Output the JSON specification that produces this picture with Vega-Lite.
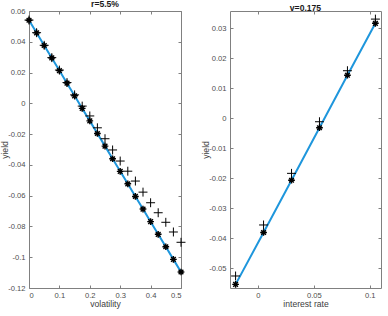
{
  "$schema": "https://vega.github.io/schema/vega-lite/v6.json",
  "background": "white",
  "padding": {"left": 0, "top": 0, "right": 4, "bottom": 2},
  "datasets": {
    "byVol": [
      {"volatility": 0.0, "yield": 0.0540, "method": "model"},
      {"volatility": 0.025, "yield": 0.0458, "method": "model"},
      {"volatility": 0.05, "yield": 0.0376, "method": "model"},
      {"volatility": 0.075, "yield": 0.0295, "method": "model"},
      {"volatility": 0.1, "yield": 0.0213, "method": "model"},
      {"volatility": 0.125, "yield": 0.0131, "method": "model"},
      {"volatility": 0.15, "yield": 0.0049, "method": "model"},
      {"volatility": 0.175, "yield": -0.0033, "method": "model"},
      {"volatility": 0.2, "yield": -0.0114, "method": "model"},
      {"volatility": 0.225, "yield": -0.0196, "method": "model"},
      {"volatility": 0.25, "yield": -0.0278, "method": "model"},
      {"volatility": 0.275, "yield": -0.0360, "method": "model"},
      {"volatility": 0.3, "yield": -0.0442, "method": "model"},
      {"volatility": 0.325, "yield": -0.0523, "method": "model"},
      {"volatility": 0.35, "yield": -0.0605, "method": "model"},
      {"volatility": 0.375, "yield": -0.0687, "method": "model"},
      {"volatility": 0.4, "yield": -0.0769, "method": "model"},
      {"volatility": 0.425, "yield": -0.0851, "method": "model"},
      {"volatility": 0.45, "yield": -0.0932, "method": "model"},
      {"volatility": 0.475, "yield": -0.1014, "method": "model"},
      {"volatility": 0.5, "yield": -0.1096, "method": "model"},
      {"volatility": 0.0, "yield": 0.0541, "method": "mc"},
      {"volatility": 0.025, "yield": 0.0459, "method": "mc"},
      {"volatility": 0.05, "yield": 0.0377, "method": "mc"},
      {"volatility": 0.075, "yield": 0.0297, "method": "mc"},
      {"volatility": 0.1, "yield": 0.0216, "method": "mc"},
      {"volatility": 0.125, "yield": 0.0135, "method": "mc"},
      {"volatility": 0.15, "yield": 0.0055, "method": "mc"},
      {"volatility": 0.175, "yield": -0.0018, "method": "mc"},
      {"volatility": 0.2, "yield": -0.0082, "method": "mc"},
      {"volatility": 0.225, "yield": -0.0159, "method": "mc"},
      {"volatility": 0.25, "yield": -0.0230, "method": "mc"},
      {"volatility": 0.275, "yield": -0.0303, "method": "mc"},
      {"volatility": 0.3, "yield": -0.0375, "method": "mc"},
      {"volatility": 0.325, "yield": -0.0441, "method": "mc"},
      {"volatility": 0.35, "yield": -0.0505, "method": "mc"},
      {"volatility": 0.375, "yield": -0.0577, "method": "mc"},
      {"volatility": 0.4, "yield": -0.0646, "method": "mc"},
      {"volatility": 0.425, "yield": -0.0711, "method": "mc"},
      {"volatility": 0.45, "yield": -0.0773, "method": "mc"},
      {"volatility": 0.475, "yield": -0.0836, "method": "mc"},
      {"volatility": 0.5, "yield": -0.0903, "method": "mc"}
    ],
    "byRate": [
      {"rate": -0.02, "yield": -0.0553, "method": "model"},
      {"rate": 0.005, "yield": -0.0380, "method": "model"},
      {"rate": 0.03, "yield": -0.0206, "method": "model"},
      {"rate": 0.055, "yield": -0.0031, "method": "model"},
      {"rate": 0.08, "yield": 0.0144, "method": "model"},
      {"rate": 0.105, "yield": 0.0317, "method": "model"},
      {"rate": -0.02, "yield": -0.0525, "method": "mc"},
      {"rate": 0.005, "yield": -0.0355, "method": "mc"},
      {"rate": 0.03, "yield": -0.0183, "method": "mc"},
      {"rate": 0.055, "yield": -0.0011, "method": "mc"},
      {"rate": 0.08, "yield": 0.0159, "method": "mc"},
      {"rate": 0.105, "yield": 0.0331, "method": "mc"}
    ]
  },
  "hconcat": [
    {
      "title": "r=5.5%",
      "width": 152,
      "height": 277,
      "data": {"name": "byVol"},
      "layer": [
        {
          "transform": [{"filter": "datum.method === 'model'"}],
          "mark": {"type": "line", "color": "#1E96DC", "strokeWidth": 2},
          "encoding": {
            "x": {"field": "volatility", "type": "quantitative",
                  "scale": {"domain": [0, 0.5], "nice": false, "zero": false},
                  "axis": {"title": "volatility", "values": [0, 0.1, 0.2, 0.3, 0.4, 0.5], "labelExpr": "'' + datum.value"}},
            "y": {"field": "yield", "type": "quantitative",
                  "scale": {"domain": [-0.12, 0.06], "nice": false, "zero": false},
                  "axis": {"title": "yield", "values": [-0.12, -0.1, -0.08, -0.06, -0.04, -0.02, 0, 0.02, 0.04, 0.06], "labelExpr": "'' + datum.value"}}
          }
        },
        {
          "transform": [{"filter": "datum.method === 'mc'"}],
          "mark": {"type": "point", "shape": "M-1,0L1,0M0,-1L0,1", "filled": false, "stroke": "#000", "strokeWidth": 1, "size": 80, "opacity": 1},
          "encoding": {
            "x": {"field": "volatility", "type": "quantitative",
                  "axis": {"orient": "top", "labels": false, "title": null, "labelPadding": 0, "values": [0, 0.1, 0.2, 0.3, 0.4, 0.5]}},
            "y": {"field": "yield", "type": "quantitative",
                  "axis": {"orient": "right", "labels": false, "title": null, "labelPadding": 0, "values": [-0.12, -0.1, -0.08, -0.06, -0.04, -0.02, 0, 0.02, 0.04, 0.06]}}
          }
        },
        {
          "transform": [{"filter": "datum.method === 'model'"}],
          "mark": {"type": "point", "shape": "M-1,0L1,0M0,-1L0,1M-0.7,-0.7L0.7,0.7M-0.7,0.7L0.7,-0.7", "filled": false, "stroke": "#000", "strokeWidth": 1.4, "size": 45, "opacity": 1},
          "encoding": {
            "x": {"field": "volatility", "type": "quantitative", "axis": null},
            "y": {"field": "yield", "type": "quantitative", "axis": null}
          }
        }
      ],
      "resolve": {"axis": {"x": "independent", "y": "independent"}}
    },
    {
      "title": "v=0.175",
      "width": 151,
      "height": 277,
      "data": {"name": "byRate"},
      "layer": [
        {
          "transform": [{"filter": "datum.method === 'model'"}],
          "mark": {"type": "line", "color": "#1E96DC", "strokeWidth": 2},
          "encoding": {
            "x": {"field": "rate", "type": "quantitative",
                  "scale": {"domain": [-0.025, 0.11], "nice": false, "zero": false},
                  "axis": {"title": "interest rate", "values": [0, 0.05, 0.1], "labelExpr": "'' + datum.value"}},
            "y": {"field": "yield", "type": "quantitative",
                  "scale": {"domain": [-0.0565, 0.0358], "nice": false, "zero": false},
                  "axis": {"title": "yield", "values": [-0.05, -0.04, -0.03, -0.02, -0.01, 0, 0.01, 0.02, 0.03], "labelExpr": "'' + datum.value"}}
          }
        },
        {
          "transform": [{"filter": "datum.method === 'mc'"}],
          "mark": {"type": "point", "shape": "M-1,0L1,0M0,-1L0,1", "filled": false, "stroke": "#000", "strokeWidth": 1, "size": 80, "opacity": 1},
          "encoding": {
            "x": {"field": "rate", "type": "quantitative",
                  "axis": {"orient": "top", "labels": false, "title": null, "labelPadding": 0, "values": [0, 0.05, 0.1]}},
            "y": {"field": "yield", "type": "quantitative",
                  "axis": {"orient": "right", "labels": false, "title": null, "labelPadding": 0, "values": [-0.05, -0.04, -0.03, -0.02, -0.01, 0, 0.01, 0.02, 0.03]}}
          }
        },
        {
          "transform": [{"filter": "datum.method === 'model'"}],
          "mark": {"type": "point", "shape": "M-1,0L1,0M0,-1L0,1M-0.7,-0.7L0.7,0.7M-0.7,0.7L0.7,-0.7", "filled": false, "stroke": "#000", "strokeWidth": 1.4, "size": 45, "opacity": 1},
          "encoding": {
            "x": {"field": "rate", "type": "quantitative", "axis": null},
            "y": {"field": "yield", "type": "quantitative", "axis": null}
          }
        }
      ],
      "resolve": {"axis": {"x": "independent", "y": "independent"}}
    }
  ],
  "spacing": 13,
  "config": {
    "view": {"stroke": null},
    "axis": {
      "grid": false,
      "domainColor": "#808080",
      "tickColor": "#808080",
      "tickSize": -3,
      "labelColor": "#4d4d4d",
      "labelFont": "Liberation Sans",
      "labelFontSize": 7.6,
      "titleFont": "Liberation Sans",
      "titleFontSize": 8.6,
      "titleFontWeight": "normal",
      "titleColor": "#404040"
    },
    "axisX": {"labelPadding": 6, "titlePadding": 1},
    "axisY": {"labelPadding": 7, "titlePadding": -2},
    "title": {"font": "Liberation Sans", "fontSize": 8.6, "fontWeight": "bold", "color": "#1a1a1a", "offset": -2}
  }
}
